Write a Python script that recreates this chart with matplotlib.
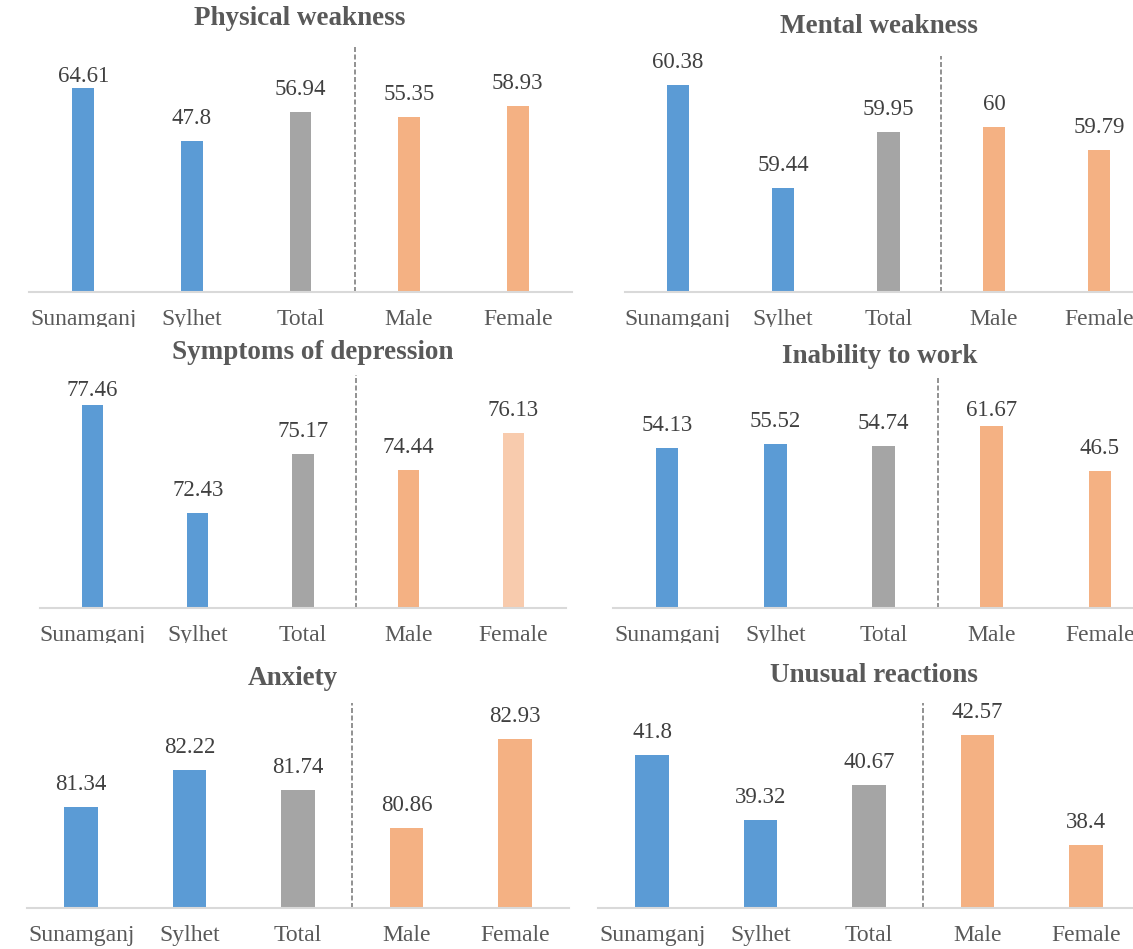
import matplotlib
matplotlib.use("Agg")
import matplotlib.pyplot as plt
from matplotlib.transforms import Bbox, TransformedBbox

plt.rcParams['font.family'] = ['Liberation Serif', 'DejaVu Serif']

# ---------------- data ----------------
categories = ["Sunamganj", "Sylhet", "Total", "Male", "Female"]
titles = ["Physical weakness", "Mental weakness", "Symptoms of depression",
          "Inability to work", "Anxiety", "Unusual reactions"]
physical_weakness = [64.61, 47.8, 56.94, 55.35, 58.93]
mental_weakness = [60.38, 59.44, 59.95, 60, 59.79]
symptoms_depression = [77.46, 72.43, 75.17, 74.44, 76.13]
inability_work = [54.13, 55.52, 54.74, 61.67, 46.5]
anxiety = [81.34, 82.22, 81.74, 80.86, 82.93]
unusual_reactions = [41.8, 39.32, 40.67, 42.57, 38.4]
series = [physical_weakness, mental_weakness, symptoms_depression,
          inability_work, anxiety, unusual_reactions]

# ---------------- style ----------------
W, H = 1133, 949
BLUE, GRAY, ORANGE, LIGHT_ORANGE = "#5B9BD5", "#A5A5A5", "#F4B183", "#F8CBAD"
bar_colors = [BLUE, BLUE, GRAY, ORANGE, ORANGE]

# pixel layout of each panel (origin top-left):
# left, right, axis line y, plot top y, y-min, y-max, bar width,
# title x, title baseline y, highest label baseline y, label clip y
layout = [
    dict(l=29, r=572, base=292, top=47, ymin=0, ymax=77.6, bw=0.2,
         tx=300, ty=25, ceil=82, clip=327),
    dict(l=625, r=1152, base=292, top=56, ymin=58.5, ymax=60.64, bw=0.21,
         tx=879, ty=33, ceil=0, clip=327),
    dict(l=40, r=566, base=608, top=375, ymin=68, ymax=78.85, bw=0.2,
         tx=313, ty=359, ceil=396, clip=643),
    dict(l=613, r=1154, base=608, top=377, ymin=0, ymax=78.2, bw=0.21,
         tx=880, ty=363, ceil=416, clip=643),
    dict(l=27, r=569, base=908, top=703, ymin=79, ymax=83.77, bw=0.31,
         tx=293, ty=685, ceil=0, clip=H),
    dict(l=598, r=1140, base=908, top=703, ymin=36, ymax=43.77, bw=0.31,
         tx=874, ty=682, ceil=0, clip=H),
]

fig = plt.figure(figsize=(W / 100, H / 100), dpi=100)

for k, (vals, lay) in enumerate(zip(series, layout)):
    ax = fig.add_axes([lay['l'] / W, 1 - lay['base'] / H,
                       (lay['r'] - lay['l']) / W, (lay['base'] - lay['top']) / H])
    cols = list(bar_colors)
    if k == 2:
        cols[4] = LIGHT_ORANGE
    x = list(range(len(categories)))
    ax.bar(x, vals, width=lay['bw'], color=cols, zorder=2)
    ax.set_xlim(-0.5, 4.5)
    ax.set_ylim(lay['ymin'], lay['ymax'])
    ax.set_yticks([])
    ax.set_xticks(x, categories)
    ax.tick_params(axis='x', length=0, pad=12.5, labelsize=17, labelcolor="#595959")
    for s in ['top', 'left', 'right']:
        ax.spines[s].set_visible(False)
    ax.spines['bottom'].set_color("#D9D9D9")
    ax.spines['bottom'].set_linewidth(1.5)
    ax.patch.set_visible(False)

    # separator between regions and gender
    ax.axvline(2.5, color="#7F7F7F", lw=1.2, ls=(0, (3, 1.5)), clip_on=False, zorder=1)

    # value labels above bars
    for i, v in enumerate(vals):
        bar_top = H - ax.transData.transform((i, v))[1]
        baseline = max(bar_top - 17, lay['ceil'])
        ax.annotate(f"{v:g}", xy=(i, v), xytext=(0, bar_top - baseline),
                    textcoords='offset pixels', ha='center', va='baseline',
                    fontsize=16.5, color="#404040", annotation_clip=False)

    # tick labels cut at the panel bottom like the original
    clip_box = TransformedBbox(Bbox([[0, 1 - lay['clip'] / H], [1, 1]]), fig.transFigure)
    for lab in ax.get_xticklabels():
        lab.set_clip_box(clip_box)
        lab.set_clip_on(True)

    fig.text(lay['tx'] / W, 1 - lay['ty'] / H, titles[k], ha='center', va='baseline',
             fontsize=19.5, fontweight='bold', color="#595959")

fig.savefig("out.png", dpi=100)
